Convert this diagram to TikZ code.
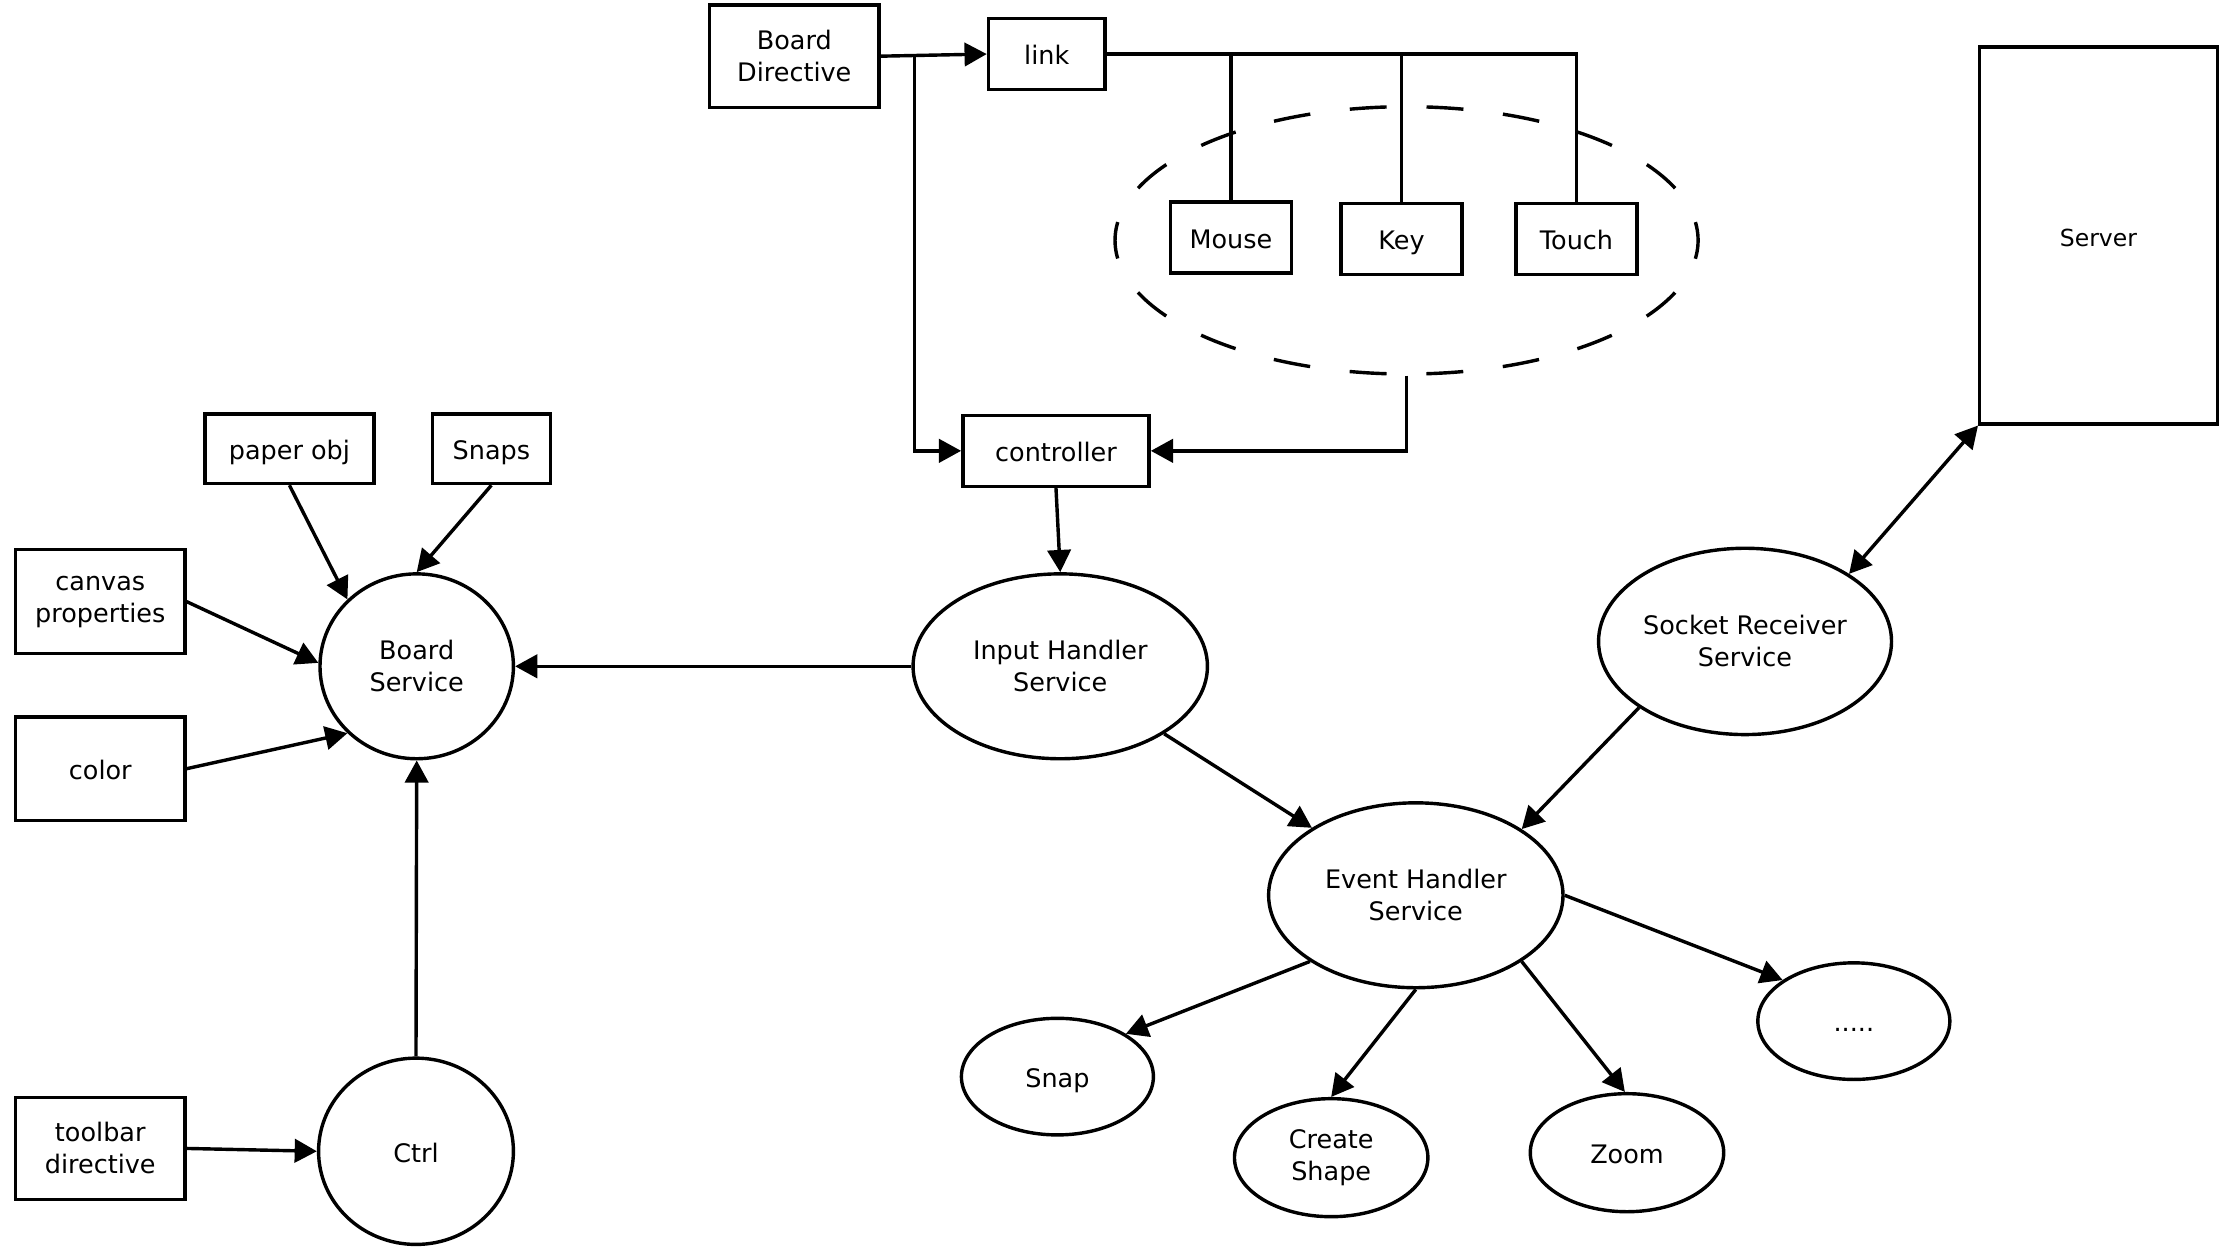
\documentclass[tikz,border=0pt]{standalone}
\usepackage{fontspec}
\setmainfont{DejaVu Sans}
\usetikzlibrary{shapes.geometric,arrows.meta}
\begin{document}
\begin{tikzpicture}[x=0.05cm, y=-0.05cm,
  every node/.style={font=\fontsize{25.5}{32}\selectfont},
  lw/.style={line width=0.12cm},
  one/.style={text height=21.5pt, text depth=0pt},
  rbox/.style 2 args={draw, lw, rectangle, minimum width=#1*0.05cm, minimum height=#2*0.05cm, inner sep=0pt, align=center},
  ell/.style 2 args={draw, lw, ellipse, minimum width=#1*0.05cm, minimum height=#2*0.05cm, inner sep=0pt, align=center},
  arr/.style={lw, -{Triangle[length=0.78cm,width=0.82cm]}},
  darr/.style={lw, {Triangle[length=0.78cm,width=0.82cm]}-{Triangle[length=0.78cm,width=0.82cm]}},
  ln/.style={lw},
  grpstyle/.style={draw, lw, ellipse, dash pattern=on 1.3cm off 1.4cm, dash phase=0.65cm, inner sep=0pt},
]
\useasboundingbox (0,0) rectangle (1568,877);

% top group
\node[grpstyle, minimum width=20.5cm, minimum height=9.4cm] (grp) at (989,169) {};
\node[rbox={119}{72}] (bd) at (558.5,39.5) {Board\\Directive};
\node[rbox={82}{50}, one] (link) at (736,38) {link};
\node[rbox={85}{50}, one] (mouse) at (865.5,167) {Mouse};
\node[rbox={85}{50}, one] (key) at (985.5,168) {Key};
\node[rbox={85}{50}, one] (touch) at (1108.5,168) {Touch};
\node[rbox={131}{50}, one] (ctrl) at (742.5,317) {controller};
\node[rbox={167}{265}, one, font=\fontsize{23.5}{28}\selectfont] (server) at (1475.5,165.5) {Server};

% left side
\node[rbox={119}{49}, one] (paper) at (203.5,315.5) {paper obj};
\node[rbox={83}{49}, one] (snaps) at (345.5,315.5) {Snaps};
\node[rbox={119}{73}] (canvas) at (70.5,423) {canvas\\properties};
\node[rbox={119}{73}, one] (color) at (70.5,540.5) {color};
\node[rbox={119}{72}] (toolbar) at (70.5,807.5) {toolbar\\directive};
\node[ell={136}{130}] (bs) at (293,468.5) {Board\\Service};
\node[ell={137}{131}, one] (ctrlc) at (292.5,809.5) {Ctrl};

% services
\node[ell={207}{130}] (ih) at (745.5,468.5) {Input Handler\\Service};
\node[ell={206}{131}] (sr) at (1227,451) {Socket Receiver\\Service};
\node[ell={207}{130}] (eh) at (995.5,629.5) {Event Handler\\Service};
\node[ell={135}{82}, one] (snap) at (743.5,757) {Snap};
\node[ell={136}{83}] (cs) at (936,814) {Create\\Shape};
\node[ell={136}{83}, one] (zoom) at (1144,810.5) {Zoom};
\node[ell={135}{82}, one] (dots) at (1303.5,718) {.....};

% connectors top
\coordinate (j1) at (643,38.7);
\draw[arr] (bd.east) -- (link.west);
\draw[arr] (j1) |- (ctrl.west);
\draw[ln] (link.east) -| (touch.north);
\draw[ln] (mouse.north) -- (mouse.north |- link.east);
\draw[ln] (key.north) -- (key.north |- link.east);
\draw[arr] (grp.south) |- (ctrl.east);
\draw[arr] (ctrl.south) -- (ih.north);

% connectors left
\draw[arr] (ih.west) -- (bs.east);
\draw[arr] (paper.south) -- (bs.136);
\draw[arr] (snaps.south) -- (bs.north);
\draw[arr] (canvas.east) -- (bs.178);
\draw[arr] (color.east) -- (bs.224);
\draw[arr] (ctrlc.north) -- (bs.south);
\draw[arr] (toolbar.east) -- (ctrlc.west);

% connectors right
\draw[arr] (ih.327) -- (eh.147);
\draw[arr] (sr.212) -- (eh.32);
\draw[darr] (server.south west) -- (sr.33);
\draw[arr] (eh.212) -- (snap.32);
\draw[arr] (eh.south) -- (cs.north);
\draw[arr] (eh.328) -- (zoom.92);
\draw[arr] (eh.east) -- (dots.150);
\end{tikzpicture}
\end{document}
